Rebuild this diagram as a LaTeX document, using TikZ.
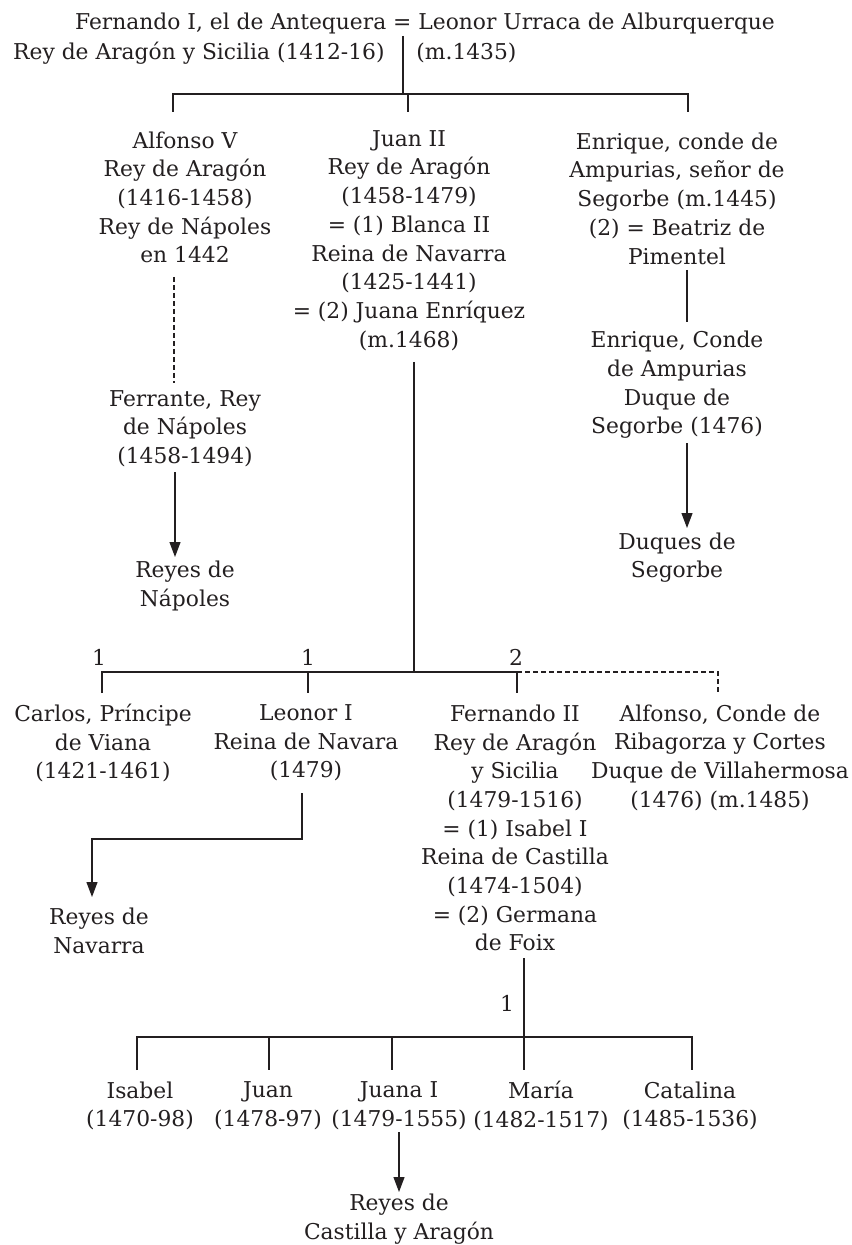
\documentclass[tikz,border=0pt]{standalone}
\usepackage{fontspec}
\setmainfont{DejaVu Serif}
\usepackage{tikz}
\usetikzlibrary{arrows.meta}
\usepackage{xcolor}
\definecolor{tinta}{RGB}{35,31,32}

\tikzset{
  persona/.style={align=center,inner sep=0pt,text=tinta,font=\fontsize{10.9}{14.35}\selectfont},
  linea/.style={draw=tinta,line width=0.6pt},
  punteada/.style={draw=tinta,line width=0.6pt,dash pattern=on 2.5pt off 1.5pt},
  flecha/.style={draw=tinta,line width=0.6pt,-{Triangle[length=7.5pt,width=5.5pt]}}
}

\begin{document}
\begin{tikzpicture}[x=0.5pt,y=-0.5pt]
  \useasboundingbox (0,0) rectangle (851,1245);
  % first generation
  \node[persona] (fernandoI) at (425,23) {Fernando I, el de Antequera = Leonor Urraca de Alburquerque};
  \node[persona,anchor=east] (reyAS) at (385,53) {Rey de Arag\'on y Sicilia (1412-16)};
  \node[persona,anchor=west] (leonorU) at (416,53) {(m.1435)};
  \coordinate (matr) at (403,36);
  \coordinate (barA) at (403,94);
  \coordinate (barAl) at (173,94);
  \coordinate (barAm) at (408,94);
  \coordinate (barAr) at (688,94);
  \draw[linea] (matr) -- (barA);
  \draw[linea] (barAl |- 0,112) -- (barAl) -- (barAr) -- (barAr |- 0,112);
  \draw[linea] (barAm) -- (barAm |- 0,112);

  % second generation
  \node[persona] (alfonso) at (185,197.4) {Alfonso V\\Rey de Arag\'on\\(1416-1458)\\Rey de N\'apoles\\en 1442};
  \node[persona] (juan) at (409,240.5) {Juan II\\Rey de Arag\'on\\(1458-1479)\\= (1) Blanca II\\Reina de Navarra\\(1425-1441)\\= (2) Juana Enr\'iquez\\(m.1468)};
  \node[persona] (enrique) at (677,198.5) {Enrique, conde de\\Ampurias, se\~nor de\\Segorbe (m.1445)\\(2) = Beatriz de\\Pimentel};

  % Naples line
  \node[persona] (ferrante) at (185,428.5) {Ferrante, Rey\\de N\'apoles\\(1458-1494)};
  \node[persona] (reyesnap) at (185,586) {Reyes de\\N\'apoles};
  \draw[punteada] (174,277) coordinate (alfA) -- (174,383) coordinate (alfB);
  \draw[flecha] (175,472) coordinate (ferA) -- (175,557) coordinate (ferB);

  % Segorbe line
  \node[persona] (enriquedos) at (677,385) {Enrique, Conde\\de Ampurias\\Duque de\\Segorbe (1476)};
  \node[persona] (duques) at (677,557.5) {Duques de\\Segorbe};
  \draw[linea] (687,270) coordinate (enrA) -- (687,322) coordinate (enrB);
  \draw[flecha] (687,443) coordinate (enrC) -- (687,528) coordinate (enrD);

  % children of Juan II
  \coordinate (juanA) at (414,362);
  \coordinate (barB) at (414,672);
  \coordinate (barBl) at (102,672);
  \coordinate (barBm) at (308,672);
  \coordinate (barBf) at (517,672);
  \coordinate (barBr) at (718,672);
  \draw[linea] (juanA) -- (barB);
  \draw[linea] (barBl |- 0,693) -- (barBl) -- (barBf) -- (barBf |- 0,693);
  \draw[linea] (barBm) -- (barBm |- 0,693);
  \draw[punteada] (barBf) -- (barBr) -- (barBr |- 0,693);
  \node[persona] (n1) at (99,657) {1};
  \node[persona] (n2) at (308,657) {1};
  \node[persona] (n3) at (516,657) {2};

  \node[persona] (carlos) at (103,743) {Carlos, Pr\'incipe\\de Viana\\(1421-1461)};
  \node[persona] (leonor) at (306,743) {Leonor I\\Reina de Navara\\(1479)};
  \node[persona] (fernandoII) at (515,828) {Fernando II\\Rey de Arag\'on\\y Sicilia\\(1479-1516)\\= (1) Isabel I\\Reina de Castilla\\(1474-1504)\\= (2) Germana\\de Foix};
  \node[persona] (alfonsodos) at (720,757.5) {Alfonso, Conde de\\Ribagorza y Cortes\\Duque de Villahermosa\\(1476) (m.1485)};

  % Navarre line
  \node[persona] (reyesnav) at (99,931) {Reyes de\\Navarra};
  \draw[flecha] (302,793) coordinate (leoA) -- (302,839) -- (92,839) -- (92,897) coordinate (leoB);

  % children of Fernando II
  \coordinate (ferIIa) at (524,958);
  \coordinate (barC) at (524,1037);
  \coordinate (barCl) at (137,1037);
  \coordinate (barCr) at (692,1037);
  \draw[linea] (ferIIa) -- (barC |- 0,1070);
  \draw[linea] (barCl |- 0,1070) -- (barCl) -- (barCr) -- (barCr |- 0,1070);
  \foreach \hx in {269,392} {
    \draw[linea] (\hx,1037) -- (\hx,1070);
  }
  \node[persona] (n4) at (507,1003) {1};

  \node[persona] (isabel) at (140,1106) {Isabel\\(1470-98)};
  \node[persona] (juanhijo) at (268,1106) {Juan\\(1478-97)};
  \node[persona] (juana) at (399,1106) {Juana I\\(1479-1555)};
  \node[persona] (maria) at (541,1106) {Mar\'ia\\(1482-1517)};
  \node[persona] (catalina) at (690,1106) {Catalina\\(1485-1536)};

  % Castile and Aragon line
  \node[persona] (reyescast) at (399,1219) {Reyes de\\Castilla y Arag\'on};
  \draw[flecha] (399,1132) coordinate (juaA) -- (399,1192) coordinate (juaB);
\end{tikzpicture}
\end{document}
